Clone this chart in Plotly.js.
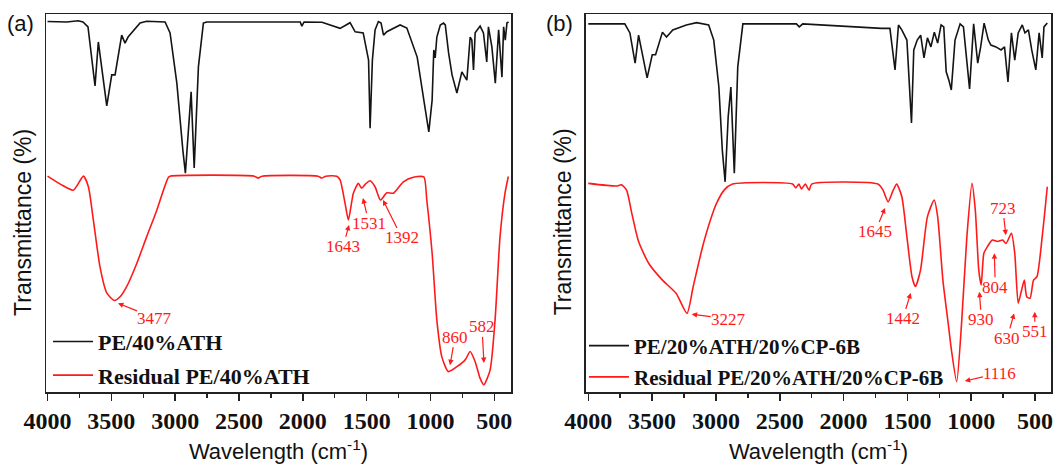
<!DOCTYPE html>
<html>
<head>
<meta charset="utf-8">
<script src="https://cdn.plot.ly/plotly-3.0.1.min.js"></script>
<style>html,body{margin:0;padding:0;background:#fff;}#chart{width:1055px;height:465px;}</style>
</head>
<body>
<div id="chart"></div>
<script>
// ---- Panel (a) data ----
const wnA_PE = [4000, 3850, 3760, 3722, 3683, 3628, 3602, 3536, 3497, 3471, 3419, 3393, 3369, 3275, 3223, 3079, 3040, 2987, 2940, 2920, 2875, 2851, 2818, 2779, 2753, 2400, 2020, 2008, 1990, 1850, 1734, 1708, 1630, 1590, 1527, 1485, 1473, 1455, 1434, 1408, 1387, 1368, 1342, 1238, 1185, 1104, 1052, 1013, 987, 974, 963, 950, 923, 898, 884, 858, 831, 793, 754, 728, 715, 689, 676, 663, 650, 611, 585, 559, 546, 519, 492, 466, 440, 427, 414, 401, 388];
const tA_PE = [98.0, 97.9, 98.2, 97.9, 96.6, 81.0, 92.6, 75.7, 83.9, 83.9, 94.4, 92.3, 93.9, 97.6, 98.1, 97.9, 95.0, 81.7, 64.0, 57.9, 79.4, 59.3, 86.0, 97.6, 97.9, 97.9, 97.9, 96.8, 97.9, 97.8, 96.6, 96.2, 97.7, 95.3, 95.0, 87.8, 69.8, 87.8, 95.8, 98.0, 97.6, 94.4, 95.3, 97.1, 96.3, 88.6, 77.2, 68.8, 77.2, 90.5, 88.4, 93.9, 97.1, 97.6, 97.1, 89.7, 83.9, 79.1, 84.7, 83.3, 82.5, 93.9, 93.1, 85.2, 95.0, 96.8, 95.0, 87.3, 96.6, 91.3, 81.7, 95.8, 83.3, 96.6, 93.1, 97.6, 97.9];
const wnA_Res = [4000, 3900, 3798, 3719, 3680, 3641, 3589, 3536, 3477, 3432, 3380, 3301, 3223, 3144, 3092, 3053, 3040, 2380, 2351, 2320, 1880, 1852, 1820, 1734, 1708, 1669, 1643, 1604, 1565, 1539, 1510, 1473, 1434, 1392, 1342, 1290, 1212, 1134, 1052, 1029, 987, 950, 911, 860, 793, 728, 689, 650, 611, 582, 533, 494, 455, 416, 390];
const tA_Res = [57.1, 55.0, 53.4, 57.1, 54.3, 45.5, 33.1, 26.2, 24.2, 25.2, 27.9, 34.0, 41.1, 48.1, 53.4, 56.8, 57.1, 57.1, 56.6, 57.1, 57.1, 56.6, 57.1, 57.1, 56.1, 49.9, 45.5, 52.6, 55.2, 53.9, 55.0, 55.9, 54.3, 50.8, 52.7, 52.6, 55.6, 56.8, 56.9, 50.8, 36.7, 19.0, 9.3, 5.4, 6.7, 8.5, 10.7, 8.0, 3.6, 1.9, 5.8, 19.0, 41.1, 52.6, 57.0];
const peakLabelsA = ['3477', '1643', '1531', '1392', '860', '582'];
const peakTipXA = [3448, 1638, 1529, 1372, 847, 581];
const peakTipYA = [23.5, 44.2, 51.3, 50.8, 7.1, 7.7];

// ---- Panel (b) data ----
const wnB_PE = [4000, 3714, 3674, 3633, 3606, 3539, 3499, 3473, 3419, 3387, 3338, 3232, 3151, 3057, 3017, 2977, 2950, 2928, 2904, 2883, 2856, 2829, 2789, 2370, 2347, 2320, 1704, 1637, 1597, 1570, 1544, 1504, 1468, 1450, 1423, 1396, 1370, 1343, 1316, 1289, 1263, 1236, 1215, 1196, 1175, 1156, 1127, 1087, 1061, 1034, 1013, 981, 949, 926, 899, 866, 846, 806, 766, 739, 712, 685, 659, 632, 600, 579, 552, 526, 494, 468, 444, 430, 404];
const tB_PE = [97.4, 97.4, 95.0, 87.0, 94.4, 83.1, 89.2, 89.2, 95.2, 93.9, 95.8, 97.1, 97.7, 97.1, 93.1, 80.7, 64.0, 55.6, 72.8, 80.7, 57.9, 86.0, 97.4, 97.4, 96.6, 97.4, 96.2, 96.2, 85.2, 97.1, 95.8, 93.1, 71.2, 90.5, 93.1, 94.4, 88.4, 93.7, 91.3, 95.2, 92.3, 97.1, 96.6, 84.7, 82.5, 79.9, 93.1, 97.4, 96.6, 87.8, 80.2, 97.4, 87.0, 91.3, 97.6, 93.1, 91.8, 91.3, 90.5, 91.3, 82.0, 95.0, 87.8, 95.0, 97.1, 95.0, 95.8, 90.5, 85.2, 95.0, 88.4, 96.6, 97.6];
const wnB_Res = [4000, 3780, 3740, 3700, 3660, 3606, 3526, 3419, 3312, 3227, 3178, 3098, 3017, 2990, 2936, 2870, 2400, 2375, 2350, 2330, 2300, 2270, 2250, 1731, 1691, 1651, 1611, 1584, 1544, 1504, 1464, 1437, 1397, 1343, 1290, 1263, 1222, 1182, 1155, 1114, 1074, 1034, 994, 968, 941, 922, 901, 874, 834, 794, 754, 727, 685, 659, 632, 605, 584, 565, 539, 512, 485, 444, 404];
const tB_Res = [55.2, 54.5, 54.8, 53.4, 47.4, 39.8, 34.0, 29.6, 26.1, 20.8, 27.9, 39.3, 48.1, 50.3, 53.4, 55.0, 55.0, 54.0, 55.0, 53.7, 55.0, 53.4, 55.0, 55.0, 53.4, 50.3, 53.4, 55.0, 51.7, 41.1, 30.5, 27.9, 32.3, 46.4, 50.8, 46.4, 29.6, 18.6, 11.1, 2.7, 19.0, 41.1, 55.2, 48.1, 32.3, 28.3, 36.7, 38.4, 40.2, 39.8, 40.2, 39.3, 42.0, 36.7, 23.5, 27.0, 29.6, 25.2, 24.8, 29.6, 30.5, 41.1, 54.3];
const peakLabelsB = ['3227', '1645', '1442', '1116', '930', '804', '723', '630', '551'];
const peakTipXB = [3190, 1675, 1474, 1050, 936, 819, 729, 664, 502];
const peakTipYB = [20.6, 48.7, 26.2, 2.9, 26.5, 36.7, 41.5, 20.8, 21.2];

const seriesNames = ['PE/40%ATH', 'Residual PE/40%ATH', 'PE/20%ATH/20%CP-6B', 'Residual PE/20%ATH/20%CP-6B'];
const xTickVals = [4000, 3500, 3000, 2500, 2000, 1500, 1000, 500];
const panelLabels = ['(a)', '(b)'];
const xTitle = 'Wavelength (cm<sup>-1</sup>)';
const yTitle = 'Transmittance (%)';

// ---- styling (not data) ----
const BLACK = '#141414', RED = '#ff1a1a';
const offA = [[37, 15], [-6, 22], [6, 25], [19, 38], [5, -28], [-2, -36]];
const offB = [[37, 5], [-10, 24], [-8, 26], [35, -8], [2, 28], [1, 34], [-3, -27], [-7, 25], [0, 20]];

function tr(x, y, name, color, xa, ya, leg, grp, shape) {
  return {x: x, y: y, name: name, type: 'scatter', mode: 'lines', xaxis: xa, yaxis: ya, legend: leg, legendgroup: grp,
    line: {color: color, width: 1.6, shape: shape, smoothing: 0.6}};
}
const traces = [
  tr(wnA_PE, tA_PE, seriesNames[0], BLACK, 'x', 'y', 'legend', 'a1', 'linear'),
  tr(wnA_Res, tA_Res, seriesNames[1], RED, 'x', 'y', 'legend', 'a2', 'spline'),
  tr(wnB_PE, tB_PE, seriesNames[2], BLACK, 'x2', 'y2', 'legend2', 'b1', 'linear'),
  tr(wnB_Res, tB_Res, seriesNames[3], RED, 'x2', 'y2', 'legend2', 'b2', 'spline')
];

const annFont = {family: 'Liberation Serif, Times New Roman, serif', size: 17, color: RED};
const annotations = [];
function addPeaks(labels, xs, ys, offs, xr, yr) {
  labels.forEach((lab, i) => annotations.push({
    text: lab, x: xs[i], y: ys[i], xref: xr, yref: yr, ax: offs[i][0], ay: offs[i][1],
    showarrow: true, arrowhead: 2, arrowsize: 0.9, arrowwidth: 1.2, arrowcolor: RED,
    font: annFont, borderpad: 0
  }));
}
addPeaks(peakLabelsA, peakTipXA, peakTipYA, offA, 'x', 'y');
addPeaks(peakLabelsB, peakTipXB, peakTipYB, offB, 'x2', 'y2');
const labelFont = {family: 'Liberation Sans, Arial, sans-serif', size: 22, color: '#111'};
annotations.push({text: panelLabels[0], xref: 'paper', yref: 'paper', x: -0.0249, y: 0.976, showarrow: false, font: labelFont, xanchor: 'center', yanchor: 'middle'});
annotations.push({text: panelLabels[1], xref: 'paper', yref: 'paper', x: 0.5114, y: 0.976, showarrow: false, font: labelFont, xanchor: 'center', yanchor: 'middle'});
const titleFont = {family: 'Liberation Sans, Arial, sans-serif', size: 22, color: '#111'};
const yTitleFont = {family: 'Liberation Sans, Arial, sans-serif', size: 23, color: '#111'};
annotations.push({text: yTitle, xref: 'paper', yref: 'paper', x: -0.0229, y: 0.45, textangle: -90, showarrow: false, font: yTitleFont, xanchor: 'center', yanchor: 'middle'});
annotations.push({text: yTitle, xref: 'paper', yref: 'paper', x: 0.5139, y: 0.45, textangle: -90, showarrow: false, font: yTitleFont, xanchor: 'center', yanchor: 'middle'});

const tickFont = {family: 'Liberation Serif, Times New Roman, serif', size: 24, color: '#111', weight: 'bold'};
function xax(domain, range, anchor) {
  return {domain: domain, range: range, anchor: anchor, showline: true, mirror: true, linecolor: '#222', linewidth: 1.5,
    ticks: 'outside', ticklen: 7, tickwidth: 1.5, tickcolor: '#222', tickvals: xTickVals,
    minor: {dtick: 250, ticks: 'outside', ticklen: 4, tickwidth: 1.5, tickcolor: '#222', showgrid: false},
    showgrid: false, zeroline: false, tickfont: tickFont,
    title: {text: xTitle, font: titleFont, standoff: 10}};
}
function yax(anchor) {
  return {domain: [0, 1], range: [0, 100], anchor: anchor, showline: true, mirror: true, linecolor: '#222', linewidth: 1.5,
    ticks: '', showticklabels: false, showgrid: false, zeroline: false};
}
const legFontA = {family: 'Liberation Serif, Times New Roman, serif', size: 22, color: '#111', weight: 'bold'};
const legFontB = {family: 'Liberation Serif, Times New Roman, serif', size: 21, color: '#111', weight: 'bold'};
const layout = {
  width: 1055, height: 465,
  margin: {l: 46, r: 4, t: 14, b: 73},
  paper_bgcolor: '#fff', plot_bgcolor: '#fff',
  showlegend: true,
  xaxis: xax([0, 0.4627], [4012, 369], 'y'),
  yaxis: yax('x'),
  xaxis2: xax([0.5373, 1], [4018, 375], 'y2'),
  yaxis2: yax('x2'),
  legend: {x: 0.002, y: 0.1885, xanchor: 'left', yanchor: 'top', bgcolor: 'rgba(0,0,0,0)', font: legFontA, itemwidth: 40, tracegroupgap: 2, traceorder: 'grouped'},
  legend2: {x: 0.5353, y: 0.176, xanchor: 'left', yanchor: 'top', bgcolor: 'rgba(0,0,0,0)', font: legFontB, itemwidth: 40, tracegroupgap: 1, traceorder: 'grouped'},
  annotations: annotations
};
Plotly.newPlot('chart', traces, layout, {staticPlot: true, displayModeBar: false});
</script>
</body>
</html>
